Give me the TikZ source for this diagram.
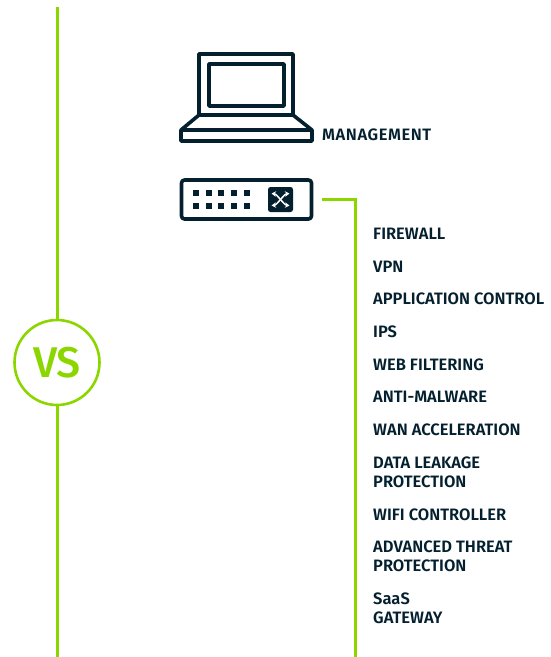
\documentclass[tikz,border=0pt]{standalone}
\usepackage{fontspec}
\usetikzlibrary{arrows.meta}
\setmainfont{Fira Sans}
\newfontfamily\labfont{Fira Sans SemiBold}
\newfontfamily\vsfont{Fira Sans Medium}
\newfontfamily\mgmtfont[LetterSpace=3.5]{Fira Sans SemiBold}
\definecolor{navy}{HTML}{04202F}
\definecolor{lime}{HTML}{8CD600}
\tikzset{
  lab/.style={anchor=base west,inner sep=0pt,text=navy,font=\labfont\fontsize{16.5}{19}\selectfont,align=left},
  icon/.style={draw=navy,line width=3.6pt,line join=round},
  gline/.style={draw=lime,line width=3pt},
  dot/.style={fill=navy},
}
\begin{document}
\begin{tikzpicture}[x=1pt,y=-1pt]
\useasboundingbox (0,0) rectangle (551,657);
% left line and VS
\node[circle,draw=lime,line width=2.6pt,minimum size=85pt,inner sep=0pt,text=lime,font=\vsfont\fontsize{43}{45}\selectfont] (vs) at (57,362.5) {VS};
\coordinate (ltop) at (57,7);
\coordinate (lbot) at (57,657);
\draw[gline] (ltop) -- (vs.north);
\draw[gline] (vs.south) -- (lbot);
% laptop
\draw[icon] (199,115) -- (199,54) -- (293,54) -- (293,115);
\draw[icon] (209,64) rectangle (284,106);
\draw[icon] (199,115) -- (293,115) -- (312,130) -- (312,141) -- (181,141) -- (181,130) -- cycle;
\draw[icon] (181,130) -- (312,130);
% switch
\draw[icon,rounded corners=3pt] (181.5,180) rectangle (311.5,219);
\foreach \x in {196,209,221,234,247}
  \foreach \y in {193,206}
    \fill[dot] (\x-3.3,\y-3.3) rectangle (\x+3.3,\y+3.3);
\fill[navy,rounded corners=2.5pt] (268,187) rectangle (293,212);
\begin{scope}[white,line width=1.5pt,{Stealth[length=4.5pt,width=5.5pt]}-{Stealth[length=4.5pt,width=5.5pt]}]
\draw (271.5,193.5) .. controls (277,194) and (284,205) .. (289.5,205.5);
\draw (271.5,205.5) .. controls (277,205) and (284,194) .. (289.5,193.5);
\end{scope}
% right line
\coordinate (rs) at (322,199.5);
\coordinate (rc) at (355,199.5);
\coordinate (re) at (355,657);
\draw[gline,line join=miter] (rs) -- (rc) -- (re);
% labels
\node[lab,font=\mgmtfont\fontsize{16.5}{19}\selectfont] (mgmt) at (322,140.3) {MANAGEMENT};
\node[lab] (n1) at (373,239.8) {FIREWALL};
\node[lab] (n2) at (373,272.8) {VPN};
\node[lab] (n3) at (373,304.8) {APPLICATION CONTROL};
\node[lab] (n4) at (373,337.8) {IPS};
\node[lab] (n5) at (373,370.8) {WEB FILTERING};
\node[lab] (n6) at (373,402.8) {ANTI-MALWARE};
\node[lab] (n7) at (373,435.8) {WAN ACCELERATION};
\node[lab] (n8) at (373,487.8) {DATA LEAKAGE\\PROTECTION};
\node[lab] (n9) at (373,520.8) {WIFI CONTROLLER};
\node[lab] (n10) at (373,571.8) {ADVANCED THREAT\\PROTECTION};
\node[lab] (n11) at (373,623.8) {SaaS\\GATEWAY};
\end{tikzpicture}
\end{document}
